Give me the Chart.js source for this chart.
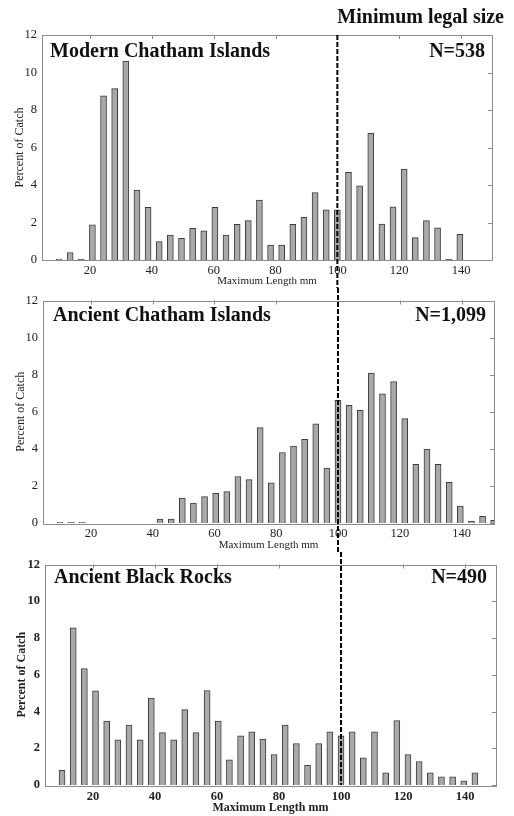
<!DOCTYPE html>
<html><head><meta charset="utf-8">
<script src="https://cdn.jsdelivr.net/npm/chart.js@4"></script>
<style>
html,body{margin:0;padding:0;background:#fff;}
#wrap{position:relative;width:514px;height:816px;overflow:hidden;}
canvas{position:absolute;left:0;}
</style></head><body>
<div id="wrap">
<canvas id="c1" width="514" height="288" style="top:0px"></canvas>
<canvas id="c2" width="514" height="264" style="top:288px"></canvas>
<canvas id="c3" width="514" height="264" style="top:552px"></canvas>
</div>
<script>
// ---- data ----
const binCenters = [10.0, 13.6, 17.2, 20.8, 24.4, 28.0, 31.6, 35.2, 38.8, 42.4,
  46.0, 49.6, 53.2, 56.8, 60.4, 64.0, 67.6, 71.2, 74.8, 78.4,
  82.0, 85.6, 89.2, 92.8, 96.4, 100.0, 103.6, 107.2, 110.8, 114.4,
  118.0, 121.6, 125.2, 128.8, 132.4, 136.0, 139.6, 143.2, 146.8, 150.4];
const modernValues = [0.05, 0.4, 0.03, 1.87, 8.76, 9.14, 10.61, 3.73, 2.81, 0.98,
  1.33, 1.16, 1.69, 1.55, 2.81, 1.33, 1.9, 2.1, 3.2, 0.8,
  0.8, 1.9, 2.28, 3.59, 2.67, 2.67, 4.68, 3.95, 6.76, 1.92,
  2.84, 4.85, 1.19, 2.1, 1.72, 0.03, 1.37];
const ancientChathamValues = [0.04, 0.04, 0.04, 0.0, 0.0, 0.0, 0.0, 0.0, 0.0, 0.21,
  0.21, 1.34, 1.07, 1.43, 1.6, 1.69, 2.51, 2.34, 5.14, 2.16,
  3.8, 4.15, 4.51, 5.35, 2.96, 6.62, 6.35, 6.08, 8.08, 6.97,
  7.63, 5.63, 3.17, 3.98, 3.17, 2.19, 0.91, 0.1, 0.36, 0.15];
const blackRocksValues = [0.8, 8.56, 6.33, 5.12, 3.48, 2.46, 3.26, 2.46, 4.73, 2.85,
  2.46, 4.1, 2.85, 5.14, 3.48, 1.37, 2.67, 2.89, 2.5, 1.66,
  3.26, 2.26, 1.07, 2.26, 2.89, 2.67, 2.89, 1.48, 2.89, 0.66,
  3.51, 1.66, 1.28, 0.66, 0.45, 0.45, 0.23, 0.66];
const xTickValues = [20, 40, 60, 80, 100, 120, 140];
const yTickValues = [0, 2, 4, 6, 8, 10, 12];
const panelTitles = ['Modern Chatham Islands', 'Ancient Chatham Islands', 'Ancient Black Rocks'];
const panelCounts = ['N=538', 'N=1,099', 'N=490'];
const legalSize = 100;
const legalLabel = 'Minimum legal size';
const xAxisTitle = 'Maximum Length mm';
const yAxisTitle = 'Percent of Catch';

const SERIF = '"Liberation Serif", "Times New Roman", serif';

const decor = {
  id: 'decor',
  afterDraw(chart, args, o) {
    const ctx = chart.ctx;
    const a = chart.chartArea;
    const xs = chart.scales.x, ys = chart.scales.y;
    ctx.save();
    ctx.strokeStyle = '#8c8c8c';
    ctx.lineWidth = 1;
    ctx.strokeRect(Math.round(a.left) + 0.5, Math.round(a.top) + 0.5,
      Math.round(a.right - a.left), Math.round(a.bottom - a.top));
    ctx.beginPath();
    xTickValues.forEach(v => {
      const px = Math.round(xs.getPixelForValue(v)) + 0.5;
      ctx.moveTo(px, a.top); ctx.lineTo(px, a.top + 4);
    });
    yTickValues.forEach(v => {
      const py = Math.round(ys.getPixelForValue(v)) + 0.5;
      ctx.moveTo(a.right, py); ctx.lineTo(a.right - 4, py);
    });
    ctx.stroke();
    ctx.fillStyle = '#111';
    ctx.font = 'bold 20px ' + SERIF;
    ctx.textBaseline = 'alphabetic';
    ctx.textAlign = 'left';
    ctx.fillText(o.title, o.titleX, o.titleY);
    ctx.textAlign = 'right';
    ctx.fillText(o.count, o.countX, o.titleY);
    if (o.legal) {
      ctx.fillText(legalLabel, 504, 23);
    }
    const lx = xs.getPixelForValue(legalSize);
    const y0 = o.lineFrom === 'area' ? a.top : 0;
    const y1 = o.lineTo === 'area' ? a.bottom : chart.height;
    ctx.strokeStyle = '#000';
    ctx.lineWidth = 2;
    ctx.setLineDash([5, 2]);
    ctx.beginPath();
    ctx.moveTo(lx, y0); ctx.lineTo(lx, y1);
    ctx.stroke();
    ctx.restore();
  }
};

function makePanel(id, values, p) {
  const tickFont = { family: SERIF, size: 12.5, weight: p.bold ? 'bold' : 'normal' };
  new Chart(document.getElementById(id), {
    type: 'bar',
    data: {
      datasets: [{
        data: values.map((v, i) => ({ x: binCenters[i], y: v })),
        backgroundColor: '#a9a9a9',
        borderColor: '#3c3c3c',
        borderWidth: 1,
        borderSkipped: 'start',
        barThickness: 6
      }]
    },
    options: {
      responsive: false,
      animation: false,
      events: [],
      layout: { padding: { top: p.top, left: 0, right: p.right, bottom: 0 } },
      plugins: {
        legend: { display: false },
        tooltip: { enabled: false },
        decor: p.decor
      },
      scales: {
        x: {
          type: 'linear',
          offset: false,
          min: 4.5, max: p.xmax,
          grid: { display: false, drawTicks: false, offset: false },
          border: { display: false },
          afterBuildTicks: s => { s.ticks = xTickValues.map(v => ({ value: v })); },
          afterFit: s => { s.height = p.xH; },
          ticks: { color: '#222', font: tickFont, padding: p.xPad, maxRotation: 0 },
          title: { display: true, text: xAxisTitle, color: '#222',
            font: { family: SERIF, size: p.bold ? 12 : 11, weight: p.bold ? 'bold' : 'normal' },
            padding: { top: 0, bottom: p.xTitlePad } }
        },
        y: {
          min: 0, max: 12,
          grid: { display: false, drawTicks: false },
          border: { display: false },
          afterBuildTicks: s => { s.ticks = yTickValues.map(v => ({ value: v })); },
          afterFit: s => { s.width = p.yW; },
          ticks: { color: '#222', font: tickFont, padding: 5 },
          title: { display: true, text: yAxisTitle, color: '#222',
            font: { family: SERIF, size: 12, weight: p.bold ? 'bold' : 'normal' },
            padding: { top: p.yTitlePad, bottom: 0 } }
        }
      }
    },
    plugins: [decor]
  });
}

makePanel('c1', modernValues, {
  top: 35, right: 22, yW: 42, xH: 28, xPad: 3, xTitlePad: 0, yTitlePad: 13, bold: false, xmax: 150,
  decor: { title: panelTitles[0], count: panelCounts[0], titleX: 50, countX: 485, titleY: 57,
    legal: true, lineFrom: 'area', lineTo: 'canvas' }
});
makePanel('c2', ancientChathamValues, {
  top: 10, right: 20, yW: 43, xH: 29, xPad: 3, xTitlePad: 0, yTitlePad: 14, bold: false, xmax: 150.5,
  decor: { title: panelTitles[1], count: panelCounts[1], titleX: 53, countX: 486, titleY: 33,
    legal: false, lineFrom: 'canvas', lineTo: 'canvas' }
});
makePanel('c3', blackRocksValues, {
  top: 9, right: 18, yW: 45, xH: 31, xPad: 4, xTitlePad: 1, yTitlePad: 15, bold: true, xmax: 150,
  decor: { title: panelTitles[2], count: panelCounts[2], titleX: 54, countX: 487, titleY: 31,
    legal: false, lineFrom: 'canvas', lineTo: 'area' }
});
</script>
</body></html>
